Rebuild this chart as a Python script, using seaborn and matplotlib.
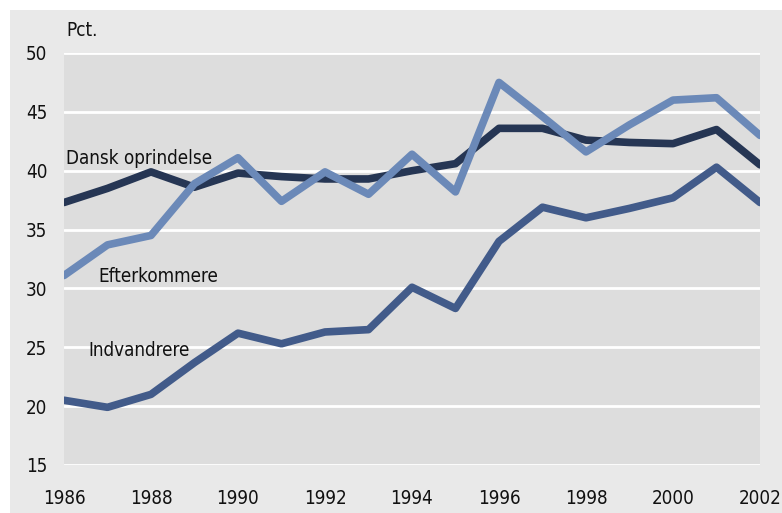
import numpy as np
import pandas as pd
import matplotlib.pyplot as plt
import seaborn as sns
from matplotlib.patches import Rectangle

years = list(range(1986, 2003))
dansk = [37.3, 38.5, 39.9, 38.6, 39.8, 39.5, 39.3, 39.3, 40.0, 40.6, 43.6, 43.6, 42.6, 42.4, 42.3, 43.5, 40.5]
efterkommere = [31.1, 33.7, 34.5, 38.9, 41.1, 37.4, 39.9, 38.0, 41.4, 38.2, 47.5, 44.6, 41.6, 43.9, 46.0, 46.2, 43.0]
indvandrere = [20.5, 19.9, 21.0, 23.7, 26.2, 25.3, 26.3, 26.5, 30.1, 28.3, 34.0, 36.9, 36.0, 36.8, 37.7, 40.3, 37.3]

groups = ["Dansk oprindelse", "Efterkommere", "Indvandrere"]
colors = {"Dansk oprindelse": "#263654", "Efterkommere": "#6b89b8", "Indvandrere": "#425b8a"}

df = pd.DataFrame({
    "year": years * 3,
    "pct": dansk + efterkommere + indvandrere,
    "group": [groups[0]] * 17 + [groups[1]] * 17 + [groups[2]] * 17,
})

sns.set_style("white")
plt.rcParams['font.family'] = ['DejaVu Sans']
plt.rcParams['font.stretch'] = 'condensed'
plt.rcParams['text.color'] = '#111111'
plt.rcParams['xtick.color'] = '#111111'
plt.rcParams['ytick.color'] = '#111111'

fig = plt.figure(figsize=(7.82, 5.13), dpi=100, facecolor="white")
fig.patches.append(Rectangle((10 / 782, 0), 1, 503 / 513, transform=fig.transFigure,
                             facecolor="#e9e9e9", edgecolor="none", zorder=-10))
ax = fig.add_axes([64 / 782, 1 - 465 / 513, 696 / 782, 412 / 513])
ax.set_facecolor("#dddddd")

sns.lineplot(data=df, x="year", y="pct", hue="group", palette=colors,
             linewidth=5.5, legend=False, ax=ax, zorder=3)

ax.set_xlim(1986, 2002)
ax.set_ylim(15, 50)
ax.set_yticks(range(15, 51, 5))
ax.set_xticks(range(1986, 2003, 2))
ax.yaxis.grid(True, color="white", linewidth=2)
ax.set_axisbelow(True)
for s in ax.spines.values():
    s.set_visible(False)
ax.tick_params(axis="y", length=0, pad=12, labelsize=13.5)
ax.tick_params(axis="x", length=0, pad=17, labelsize=13.5)
ax.set_xlabel("")
ax.set_ylabel("")

ax.text(1986.05, 51.95, "Pct.", fontsize=13.5, va="center", ha="left", clip_on=False)
ax.text(1986.05, 41.0, "Dansk oprindelse", fontsize=13.5, va="center", ha="left")
ax.text(1986.8, 31.0, "Efterkommere", fontsize=13.5, va="center", ha="left")
ax.text(1986.55, 24.7, "Indvandrere", fontsize=13.5, va="center", ha="left")

fig.savefig("out.png", dpi=100, facecolor=fig.get_facecolor())
